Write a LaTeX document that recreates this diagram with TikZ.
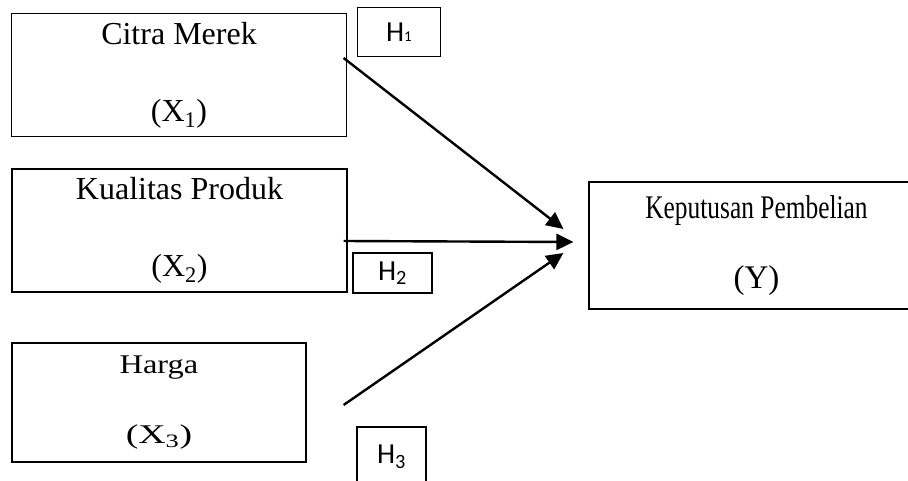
\documentclass[tikz,border=0pt]{standalone}
\usepackage{fontspec}
\setmainfont{Liberation Serif}
\newfontfamily\hfont{Carlito}
\usepackage{tikz}
\usetikzlibrary{arrows.meta}
\tikzstyle{varbox} = [rectangle, 
draw=black, 
line width=1.2pt,
align=center,
text centered,
font=\fontsize{32}{77}\selectfont]
\tikzstyle{hbox} = [rectangle, 
draw=black, 
line width=1.2pt,
text centered,
font=\hfont\fontsize{29}{29}\selectfont]
\tikzstyle{arrow} = [line width=2.4pt,-{Triangle[length=17pt,width=16pt]}]

\begin{document}
\begin{tikzpicture}[x=1pt, y=-1pt]
\useasboundingbox (0,0) rectangle (908,481);
\clip (0,0) rectangle (908,481);
\node (citra) [varbox, minimum width=335pt, minimum height=123.5pt] at (179,75) {Citra Merek\\(X\textsubscript{1})};
\node (kualitas) [varbox, minimum width=335pt, minimum height=123pt] at (179.5,230.5) {Kualitas Produk\\(X\textsubscript{2})};
\node (harga) [varbox, minimum width=294pt, minimum height=119pt, font=\fontsize{27}{70}\selectfont] at (159,402.5) {\scalebox{1.2}[1]{Harga}\\\scalebox{1.4}[1]{(X\textsubscript{3})}};
\node (keputusan) [varbox, minimum width=335pt, minimum height=127pt, font=\fontsize{33}{70}\selectfont] at (756.5,245.5) {\scalebox{0.77}[1]{Keputusan Pembelian}\\(Y)};
\node (h1) [hbox, minimum width=82.5pt, minimum height=49.5pt] at (399,32) {H{\fontsize{15}{15}\selectfont 1}};
\node (h2) [hbox, minimum width=79pt, minimum height=40pt] at (392.5,273) {H\textsubscript{2}};
\node (h3) [hbox, minimum width=69pt, minimum height=60pt] at (391.5,457) {H\textsubscript{3}};

\draw [arrow] ([xshift=-3.5pt, yshift=17pt]citra.east) -- ([xshift=-25pt, yshift=16.5pt]keputusan.west);
\draw [arrow] ([xshift=-4pt, yshift=-10.5pt]kualitas.east) -- ([xshift=-15pt, yshift=3.5pt]keputusan.west);
\draw [arrow] ([xshift=37pt, yshift=-2.5pt]harga.east) -- ([xshift=-25pt, yshift=-7.5pt]keputusan.west);
\end{tikzpicture}
\end{document}
